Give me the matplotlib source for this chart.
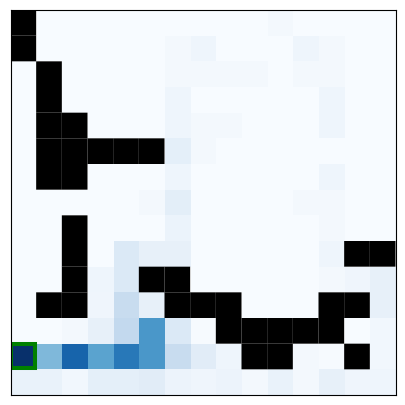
import numpy as np
import matplotlib
matplotlib.use("Agg")
import matplotlib.pyplot as plt
from matplotlib.patches import Rectangle

# n marks a wall cell, the rest are visit values on the Blues scale
n = np.nan
row00 = [n, 0, 0, 0, 0, 0, 0, 0, 0, 0, .02, 0, 0, 0, 0]
row01 = [n, 0, 0, 0, 0, 0, .02, .045, 0, 0, 0, .045, .02, 0, 0]
row02 = [0, n, 0, 0, 0, 0, .02, .02, .02, .02, 0, .02, .02, 0, 0]
row03 = [0, n, 0, 0, 0, 0, .045, 0, 0, 0, 0, 0, .045, 0, 0]
row04 = [0, n, n, 0, 0, 0, .045, .02, .02, 0, 0, 0, .045, 0, 0]
row05 = [0, n, n, n, n, n, .09, .02, 0, 0, 0, 0, 0, 0, 0]
row06 = [0, n, n, 0, 0, 0, .045, 0, 0, 0, 0, 0, .045, 0, 0]
row07 = [0, 0, 0, 0, 0, .02, .1, 0, 0, 0, 0, .02, .02, 0, 0]
row08 = [0, 0, n, 0, 0, 0, .06, 0, 0, 0, 0, 0, .02, 0, 0]
row09 = [0, 0, n, 0, .14, .08, .08, 0, 0, 0, 0, 0, .045, n, n]
row10 = [0, 0, n, .045, .14, n, n, 0, 0, 0, 0, 0, .02, .04, .08]
row11 = [0, n, n, .04, .24, .08, n, n, n, 0, 0, 0, n, n, .08]
row12 = [0, 0, .02, .08, .26, .6, .14, .005, n, n, n, n, n, 0, .03]
row13 = [1, .45, .8, .55, .72, .6, .24, .11, .045, n, n, .02, .005, n, .03]
row14 = [.07, .07, .03, .09, .09, .11, .055, .04, .055, .02, .07, .02, .08, .04, .045]
grid = np.array([row00, row01, row02, row03, row04, row05, row06, row07,
                 row08, row09, row10, row11, row12, row13, row14])
start = (13, 0)

fig = plt.figure(figsize=(4.05, 4.05), dpi=100)
ax = fig.add_axes([10.5 / 405, 10 / 405, 385 / 405, 385 / 405])
ax.imshow(grid, cmap="Blues", vmin=0, vmax=1, interpolation="nearest")

# walls, left unsnapped so the seams between neighbours stay faintly visible
for r, c in np.argwhere(np.isnan(grid)):
    ax.add_patch(Rectangle((c - 0.5, r - 0.5), 1, 1, facecolor="black",
                           edgecolor="none", snap=False))

ax.add_patch(Rectangle((start[1] - 0.5, start[0] - 0.5), 0.95, 0.95,
                       fill=False, edgecolor="green", linewidth=2.9))
ax.set_xticks([])
ax.set_yticks([])
fig.savefig("out.png", dpi=100)
